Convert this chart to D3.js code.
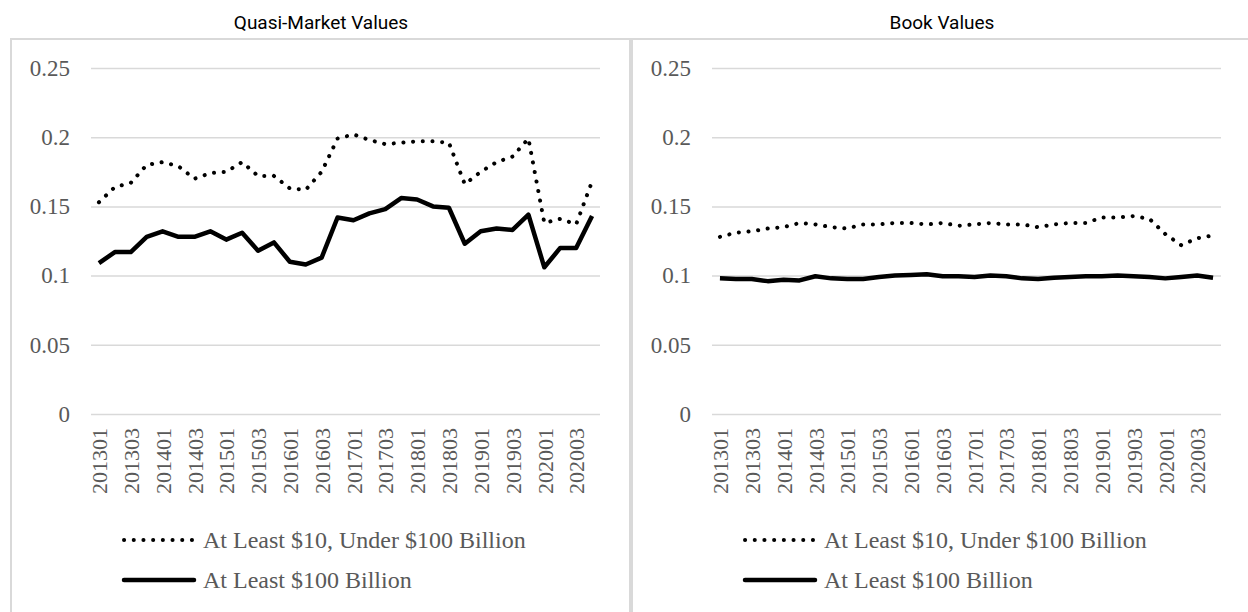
<!DOCTYPE html>
<html>
<head>
<meta charset="utf-8">
<script src="https://cdn.jsdelivr.net/npm/d3@7"></script>
<style>
  body { margin: 0; background: #fff; }
  svg { display: block; }
</style>
</head>
<body>
<svg id="chart" width="1248" height="612"></svg>
<script>
const quarters = [
  '201301','201302','201303','201304','201401','201402','201403','201404',
  '201501','201502','201503','201504','201601','201602','201603','201604',
  '201701','201702','201703','201704','201801','201802','201803','201804',
  '201901','201902','201903','201904','202001','202002','202003','202004'
];
const tickLabels = ['201301','201303','201401','201403','201501','201503','201601','201603',
  '201701','201703','201801','201803','201901','201903','202001','202003'];
const yTicks = [0, 0.05, 0.1, 0.15, 0.2, 0.25];

const seriesNames = ['At Least $10, Under $100 Billion', 'At Least $100 Billion'];

// quasi-market values
const marketMid = [0.153,0.164,0.167,0.180,0.182,0.179,0.170,0.174,0.175,0.182,0.172,0.172,0.163,0.162,0.175,0.199,
  0.202,0.198,0.195,0.196,0.197,0.197,0.196,0.166,0.175,0.182,0.186,0.199,0.138,0.141,0.137,0.168];
const marketLarge = [0.109,0.117,0.117,0.128,0.132,0.128,0.128,0.132,0.126,0.131,0.118,0.124,0.110,0.108,0.113,0.142,
  0.140,0.145,0.148,0.156,0.155,0.150,0.149,0.123,0.132,0.134,0.133,0.144,0.106,0.120,0.120,0.143];

// book values
const bookMid = [0.128,0.131,0.132,0.134,0.135,0.138,0.137,0.135,0.134,0.137,0.137,0.138,0.138,0.137,0.138,0.136,
  0.137,0.138,0.137,0.137,0.135,0.137,0.138,0.138,0.142,0.142,0.143,0.141,0.130,0.122,0.127,0.129];
const bookLarge = [0.098,0.0975,0.0975,0.096,0.097,0.0965,0.0995,0.098,0.0975,0.0975,0.099,0.100,0.1005,0.101,0.0995,0.0995,
  0.099,0.100,0.0995,0.098,0.0975,0.0985,0.099,0.0995,0.0995,0.100,0.0995,0.099,0.098,0.099,0.100,0.0985];

const panels = [
  { title: 'Quasi-Market Values', mid: marketMid, large: marketLarge, left: 11 },
  { title: 'Book Values', mid: bookMid, large: bookLarge, left: 632 }
];

const svg = d3.select('#chart');
const grey = '#d9d9d9';
const textGrey = '#595959';
const serif = '"Liberation Serif", "Times New Roman", serif';

panels.forEach((p) => {
  const g = svg.append('g').attr('transform', `translate(${p.left},0)`);

  g.append('rect')
      .attr('x', 0).attr('y', 39)
      .attr('width', 619).attr('height', 620)
      .style('fill', 'none')
      .style('stroke', grey)
      .style('stroke-width', 2);

  g.append('text')
      .text(p.title)
      .attr('x', 310).attr('y', 29)
      .attr('text-anchor', 'middle')
      .style('font-family', 'Roboto, sans-serif')
      .style('font-size', '19px')
      .style('fill', '#000');

  const x = d3.scalePoint(quarters, [80, 589]).padding(0.5);
  const y = d3.scaleLinear([0, 0.25], [414, 68]);

  const yAxis = g.append('g')
      .attr('transform', 'translate(80,0)')
      .call(d3.axisLeft(y).tickValues(yTicks).tickSize(-509).tickPadding(21)
        .tickFormat((d) => String(d)));
  yAxis.select('.domain').remove();
  yAxis.selectAll('line').style('stroke', grey).style('stroke-width', 1.5);
  yAxis.selectAll('text')
      .style('font-family', serif)
      .style('font-size', '23px')
      .style('fill', textGrey);

  const xAxis = g.append('g')
      .attr('transform', 'translate(0,414)')
      .call(d3.axisBottom(x).tickValues(tickLabels).tickSize(0));
  xAxis.select('.domain').remove();
  xAxis.selectAll('text')
      .attr('transform', 'rotate(-90)')
      .attr('text-anchor', 'end')
      .attr('x', -14).attr('y', 0).attr('dy', '0.35em')
      .style('font-family', serif)
      .style('font-size', '22px')
      .style('fill', textGrey);

  const line = d3.line().x((d, i) => x(quarters[i])).y((d) => y(d));

  g.append('path')
      .datum(p.mid)
      .attr('d', line)
      .style('fill', 'none')
      .style('stroke', '#000')
      .style('stroke-width', 4)
      .style('stroke-linecap', 'round')
      .style('stroke-dasharray', '0.1 9.6');

  g.append('path')
      .datum(p.large)
      .attr('d', line)
      .style('fill', 'none')
      .style('stroke', '#000')
      .style('stroke-width', 4.5)
      .style('stroke-linejoin', 'round');

  // legend
  const legend = g.append('g').classed('legend', true);
  const rows = legend.selectAll('g')
      .data(seriesNames)
      .enter()
      .append('g')
      .attr('transform', (d, i) => `translate(113,${540 + i * 40})`);

  rows.append('line')
      .attr('x1', 0).attr('x2', 70)
      .style('stroke', '#000')
      .style('stroke-width', (d, i) => i === 0 ? 4 : 4.5)
      .style('stroke-linecap', 'round')
      .style('stroke-dasharray', (d, i) => i === 0 ? '0.1 9.6' : null);

  rows.append('text')
      .text((d) => d)
      .attr('x', 79).attr('dy', '0.35em')
      .style('font-family', serif)
      .style('font-size', '24px')
      .style('fill', textGrey);
});
</script>
</body>
</html>
